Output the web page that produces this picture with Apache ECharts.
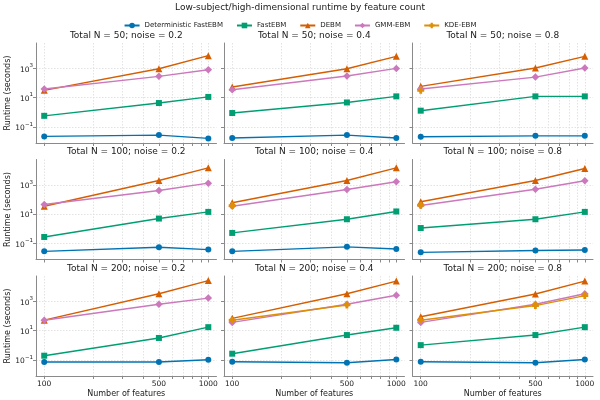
<!DOCTYPE html>
<html>
<head>
<meta charset="utf-8">
<script src="https://cdn.jsdelivr.net/npm/echarts@6/dist/echarts.min.js"></script>
<style>
html, body { margin: 0; padding: 0; background: #fff; }
#chart { width: 600px; height: 400px; }
</style>
</head>
<body>
<div id="chart"></div>
<script>
// data
const features = [100, 500, 1000];
const featureGrid = [100, 200, 300, 400, 500, 600, 700, 800, 900, 1000];
const yTicks = [0.1, 10, 1000];
const totalN = [50, 100, 200];
const noise = [0.2, 0.4, 0.8];
const methods = ['Deterministic FastEBM', 'FastEBM', 'DEBM', 'GMM-EBM', 'KDE-EBM'];

// one row per panel (N=50 / 0.2, 0.4, 0.8, then N=100 ..., then N=200 ...)
const detFast = [
    [0.022, 0.027, 0.016],
    [0.017, 0.027, 0.017],
    [0.021, 0.024, 0.024],
    [0.028, 0.053, 0.037],
    [0.028, 0.057, 0.041],
    [0.024, 0.032, 0.035],
    [0.070, 0.070, 0.100],
    [0.073, 0.063, 0.105],
    [0.073, 0.063, 0.105]
];
const fastEbm = [
    [0.56, 4.2, 11],
    [0.87, 4.6, 12],
    [1.26, 12, 12],
    [0.27, 4.9, 14],
    [0.51, 4.4, 15],
    [1.1, 4.4, 14],
    [0.19, 3.1, 17],
    [0.26, 4.9, 15.5],
    [1.0, 4.9, 17]
];
const debm = [
    [31, 930, 7300],
    [52, 930, 6600],
    [58, 1050, 6600],
    [34, 1950, 14500],
    [59, 1950, 14500],
    [69, 1950, 13000],
    [51, 3300, 26000],
    [68, 3300, 24000],
    [87, 3150, 24000]
];
const gmmEbm = [
    [38, 280, 800],
    [34, 295, 980],
    [38, 250, 1050],
    [45, 410, 1300],
    [34, 480, 1600],
    [38, 500, 1900],
    [51, 630, 1650],
    [36, 630, 2600],
    [36, 630, 3300]
];
const kdeEbm = [
    [null, null, null],
    [null, null, null],
    [31, null, null],
    [null, null, null],
    [38, null, null],
    [40, null, null],
    [null, null, null],
    [51, 560, null],
    [51, 510, 2450]
];

const colors = ['#0173B2', '#029E73', '#D55E00', '#CC78BC', '#DE8F05'];
const symbols = ['circle', 'rect', 'triangle', 'diamond', 'path://M3,0H7V3H10V7H7V10H3V7H0V3H3Z'];
const symbolSizes = [6, 6, 7, 7.5, 7];
const allValues = [detFast, fastEbm, debm, gmmEbm, kdeEbm];

const lefts = [36, 224, 412.5];
const tops = [43, 159.5, 276];
const panelW = 180.5, panelH = 100;
const axisColor = '#8a8a8a';
const gridColor = '#dcdcdc';
const textColor = '#1a1a1a';

function expLabel(v) {
    var e = Math.round(Math.log10(v));
    return '{b|10}{s|' + (e < 0 ? '\u2212' + (-e) : e) + '}';
}

var chartDom = document.getElementById('chart');
var myChart = echarts.init(chartDom);

var grids = [], xAxes = [], yAxes = [], series = [];
var titles = [{
    text: 'Low-subject/high-dimensional runtime by feature count',
    left: 'center',
    top: 3,
    padding: 0,
    textStyle: { fontSize: 9, fontWeight: 'normal', color: textColor, fontFamily: 'DejaVu Sans' }
}];

for (var r = 0; r < 3; r++) {
    for (var c = 0; c < 3; c++) {
        var i = r * 3 + c;
        grids.push({ left: lefts[c], top: tops[r], width: panelW, height: panelH });
        titles.push({
            text: 'Total N = ' + totalN[r] + '; noise = ' + noise[c],
            left: lefts[c] + panelW / 2,
            top: tops[r] - 12,
            textAlign: 'center',
            padding: 0,
            textStyle: { fontSize: 9, fontWeight: 'normal', color: textColor, fontFamily: 'DejaVu Sans' }
        });
        xAxes.push({
            type: 'log',
            gridIndex: i,
            min: 89.1,
            max: 1122,
            name: r === 2 ? 'Number of features' : '',
            nameLocation: 'middle',
            nameGap: 14,
            nameTextStyle: { fontSize: 8, color: textColor, fontFamily: 'DejaVu Sans' },
            axisLine: { show: true, lineStyle: { color: axisColor, width: 1 } },
            axisTick: { show: true, length: 3, customValues: featureGrid, lineStyle: { color: axisColor } },
            axisLabel: {
                show: r === 2,
                customValues: features,
                formatter: function (v) { return String(Math.round(v)); },
                fontSize: 7.5,
                margin: 4,
                color: textColor,
                fontFamily: 'DejaVu Sans'
            },
            splitLine: { show: true, lineStyle: { color: gridColor, type: [1.5, 1.5], width: 0.8 } },
            minorTick: { show: false },
            minorSplitLine: { show: false }
        });
        yAxes.push({
            type: 'log',
            gridIndex: i,
            min: 0.00776,
            max: 53700,
            name: c === 0 ? 'Runtime (seconds)' : '',
            nameLocation: 'middle',
            nameGap: 23,
            nameTextStyle: { fontSize: 8, color: textColor, fontFamily: 'DejaVu Sans' },
            axisLine: { show: true, lineStyle: { color: axisColor, width: 1 } },
            axisTick: { show: true, length: 3, customValues: yTicks, lineStyle: { color: axisColor } },
            axisLabel: {
                show: c === 0,
                customValues: yTicks,
                margin: 3,
                formatter: expLabel,
                rich: {
                    b: { fontSize: 7.5, color: textColor, fontFamily: 'DejaVu Sans', lineHeight: 11, verticalAlign: 'bottom' },
                    s: { fontSize: 5.5, color: textColor, fontFamily: 'DejaVu Sans', lineHeight: 11, verticalAlign: 'top' }
                }
            },
            splitLine: { show: true, lineStyle: { color: gridColor, type: [1.5, 1.5], width: 0.8 } }
        });
        for (var m = 0; m < methods.length; m++) {
            var vals = allValues[m][i];
            series.push({
                name: methods[m],
                type: 'line',
                xAxisIndex: i,
                yAxisIndex: i,
                data: features.map(function (f, k) { return [f, vals[k]]; }),
                symbol: symbols[m],
                symbolSize: symbolSizes[m],
                showSymbol: true,
                showAllSymbol: true,
                connectNulls: false,
                color: colors[m],
                lineStyle: { width: 1.4, color: colors[m] },
                itemStyle: { color: colors[m] },
                emphasis: { disabled: true },
                animation: false
            });
        }
    }
}

var option = {
    backgroundColor: '#fff',
    animation: false,
    title: titles,
    legend: {
        data: methods,
        top: 22,
        left: 'center',
        padding: 0,
        itemWidth: 15,
        itemHeight: 7,
        itemGap: 13,
        textStyle: { fontSize: 7, color: textColor, fontFamily: 'DejaVu Sans' }
    },
    grid: grids,
    xAxis: xAxes,
    yAxis: yAxes,
    series: series
};
myChart.setOption(option);
</script>
</body>
</html>
